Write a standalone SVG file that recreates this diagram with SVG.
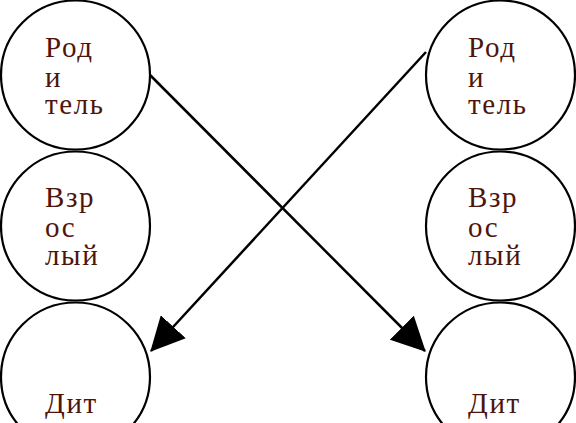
<svg xmlns="http://www.w3.org/2000/svg" width="576" height="423" viewBox="0 0 576 423">
<style>
.n{fill:#fff;stroke:#000;stroke-width:2.2}
.t{font-family:"Liberation Serif","Times New Roman",serif;font-size:29px;fill:#4e150c;letter-spacing:1.6px}
.c{stroke:#000;stroke-width:2.5;fill:none}
</style>
<defs>
<marker id="ah" markerUnits="userSpaceOnUse" markerWidth="34" markerHeight="34" viewBox="0 0 32 32" refX="31" refY="16" orient="auto">
<path d="M0,0 L32,16 L0,32 Z" fill="#000"/>
</marker>
</defs>
<g id="n1"><circle class="n" cx="75.5" cy="75" r="74.5"/><text class="t" x="45" y="57">Род</text><text class="t" x="45" y="87">и</text><text class="t" x="45" y="114">тель</text></g>
<g id="n2"><circle class="n" cx="75.5" cy="226" r="74.5"/><text class="t" x="45" y="207">Взр</text><text class="t" x="45" y="237">ос</text><text class="t" x="45" y="265">лый</text></g>
<g id="n3"><circle class="n" cx="75.5" cy="377" r="74.5"/><text class="t" x="45" y="413">Дит</text></g>
<g id="n4"><circle class="n" cx="500.5" cy="75" r="74.5"/><text class="t" x="468" y="57">Род</text><text class="t" x="468" y="87">и</text><text class="t" x="468" y="114">тель</text></g>
<g id="n5"><circle class="n" cx="500.5" cy="226" r="74.5"/><text class="t" x="468" y="207">Взр</text><text class="t" x="468" y="237">ос</text><text class="t" x="468" y="265">лый</text></g>
<g id="n6"><circle class="n" cx="500.5" cy="377" r="74.5"/><text class="t" x="468" y="413">Дит</text></g>
<g id="connectors">
<line class="c" x1="150" y1="75" x2="425" y2="351" marker-end="url(#ah)"/>
<line class="c" x1="426" y1="52" x2="151" y2="351" marker-end="url(#ah)"/>
</g>
</svg>
